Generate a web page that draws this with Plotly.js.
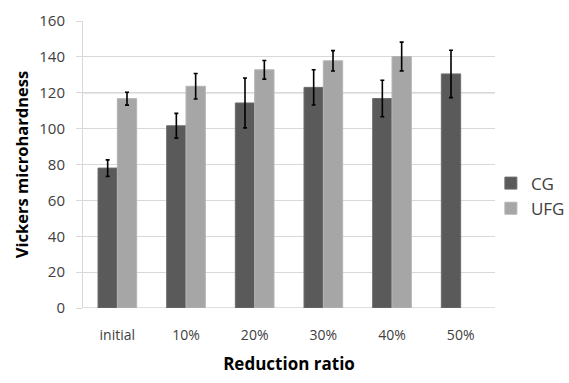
<!DOCTYPE html>
<html>
<head>
<meta charset="utf-8">
<script src="https://cdn.plot.ly/plotly-3.0.1.min.js"></script>
<style>html,body{margin:0;padding:0;background:#fff;}#chart{width:569px;height:383px;}</style>
</head>
<body>
<div id="chart"></div>
<script>
var categories = ["initial", "10%", "20%", "30%", "40%", "50%"];
var cgValues = [78, 101.6, 114.3, 123, 116.8, 130.5];
var cgErrors = [4.6, 6.9, 13.9, 9.8, 10.2, 13.2];
var ufgValues = [116.7, 123.6, 132.8, 137.8, 140.2, null];
var ufgErrors = [3.6, 7.1, 5.2, 5.7, 8.0, null];
var yTicks = [0, 20, 40, 60, 80, 100, 120, 140, 160];

var font = "'Open Sans', 'DejaVu Sans', sans-serif";

var traces = [
  {
    type: "bar", name: "CG", x: categories, y: cgValues,
    marker: {color: "#5a5a5a", line: {color: "#6e6e6e", width: 1}},
    error_y: {type: "data", array: cgErrors, visible: true, color: "#000", thickness: 1.6, width: 2}
  },
  {
    type: "bar", name: "UFG", x: categories, y: ufgValues,
    marker: {color: "#a6a6a6", line: {color: "#b4b4b4", width: 1}},
    error_y: {type: "data", array: ufgErrors, visible: true, color: "#000", thickness: 1.6, width: 2}
  }
];

var layout = {
  width: 569, height: 383,
  margin: {l: 83, r: 74, t: 21, b: 75, autoexpand: false},
  paper_bgcolor: "#fff", plot_bgcolor: "#fff",
  barmode: "group", bargap: 0.437, bargroupgap: 0,
  font: {family: font, color: "#404040", size: 13},
  showlegend: true,
  legend: {x: 0.99, xanchor: "left", y: 0.39, yanchor: "middle",
    font: {size: 17, color: "#404040"}, tracegroupgap: 17, itemwidth: 30, bgcolor: "rgba(0,0,0,0)"},
  xaxis: {
    type: "category", showgrid: false, zeroline: false,
    showline: false, ticks: "outside", ticklen: 14, tickcolor: "rgba(0,0,0,0)",
    tickfont: {size: 14, color: "#404040"},
    title: {text: "<b>Reduction ratio</b>", font: {size: 17, color: "#000"}, standoff: 15}
  },
  yaxis: {
    range: [0, 160], tickvals: yTicks, ticktext: yTicks.map(String),
    showgrid: true, gridcolor: "#d9d9d9", gridwidth: 1,
    zeroline: false, showline: true, linecolor: "#d9d9d9", linewidth: 1,
    ticks: "outside", ticklen: 6, tickcolor: "#d9d9d9", ticklabelstandoff: 8,
    tickfont: {size: 15, color: "#404040"},
    title: {text: "<b>Vickers microhardness</b>", font: {size: 16.5, color: "#000"}, standoff: 6}
  },
  shapes: [
    {type: "line", xref: "paper", x0: 0, x1: 1, yref: "y", y0: 0, y1: 0, line: {color: "#bfbfbf", width: 1}, layer: "below"},
    {type: "line", xref: "paper", x0: 0, x1: 1, yref: "y", y0: 120, y1: 120, line: {color: "#a0a0a0", width: 1}, layer: "below"}
  ]
};

Plotly.newPlot("chart", traces, layout, {displayModeBar: false, staticPlot: true});
</script>
</body>
</html>
